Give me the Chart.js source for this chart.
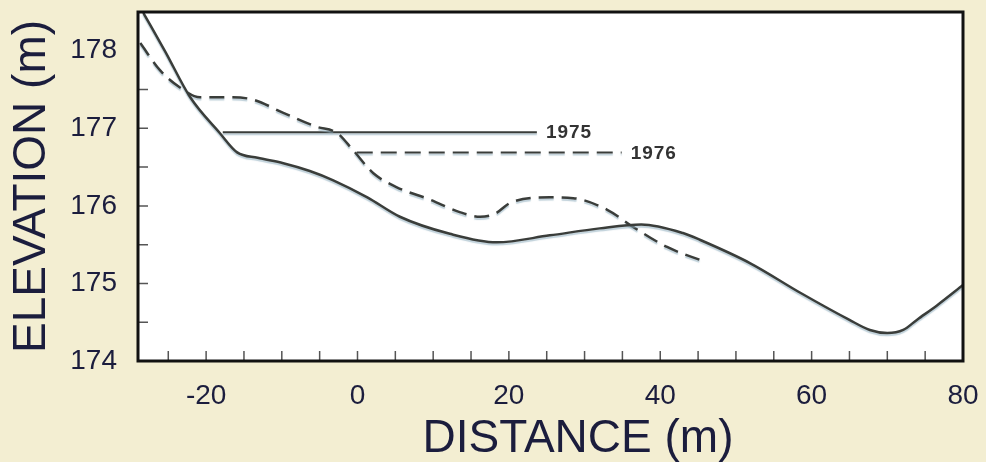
<!DOCTYPE html>
<html>
  <head>
    <script src="https://cdn.jsdelivr.net/npm/chart.js"></script>
    <style>
      html, body {
        margin: 0;
        padding: 0;
        background: #f3eed2;
      }
      .wrap {
        width: 986px;
        height: 462px;
        position: relative;
      }
    </style>
  </head>
  <body>
    <div class="wrap"><canvas id="profileChart"></canvas></div>

    <script>
      // solid profile
      const solidDistance  = [-28.3, -25.4, -22.1, -18.2, -15.9, -13.2, -9.8, -6.3, -3.2, 1.3, 5.6, 12.2, 18.4, 25.4, 32.0, 37.5, 43.0, 45.3, 51.9, 58.5, 65.0, 67.7, 70.0, 72.1, 73.9, 76.6, 80.0];
      const solidElevation = [178.49, 177.99, 177.40, 176.94, 176.69, 176.62, 176.55, 176.45, 176.33, 176.11, 175.86, 175.64, 175.53, 175.62, 175.71, 175.76, 175.65, 175.56, 175.26, 174.88, 174.53, 174.40, 174.36, 174.40, 174.53, 174.72, 174.98];

      // dashed profile
      const dashedDistance  = [-28.7, -26.1, -23.5, -20.8, -16.5, -13.8, -9.8, -5.4, -2.7, -0.6, 2.1, 5.2, 9.6, 13.5, 16.2, 18.2, 20.2, 25.4, 28.5, 33.0, 36.4, 40.9, 45.9];
      const dashedElevation = [178.10, 177.75, 177.53, 177.40, 177.40, 177.37, 177.20, 177.02, 176.94, 176.72, 176.42, 176.24, 176.08, 175.92, 175.86, 175.90, 176.04, 176.11, 176.10, 175.95, 175.73, 175.47, 175.28];

      // key lines inside the plot
      const keyYears     = ['1975', '1976'];
      const keyDistance  = [[-17.8, 23.7], [-0.1, 34.9]];
      const keyElevation = [176.95, 176.69];

      const xTicks = [-20, 0, 20, 40, 60, 80];
      const yTicks = [174, 175, 176, 177, 178];
      const xMinorTicks = [-25, -20, -15, -10, -5, 0, 5, 10, 15, 20, 25, 30, 35, 40, 45, 50, 55, 60, 65, 70, 75];
      const yMinorTicks = [174.5, 175, 175.5, 176, 176.5, 177, 177.5];

      const inkColor = '#3a3d3a';
      const textColor = '#1b1d3d';

      function toPoints(xs, ys) {
        return xs.map((x, i) => ({ x: x, y: ys[i] }));
      }

      const paperPlugin = {
        id: 'paper',
        beforeDraw(chart) {
          const { ctx, chartArea: a } = chart;
          ctx.save();
          ctx.fillStyle = '#f3eed2';
          ctx.fillRect(0, 0, chart.width, chart.height);
          ctx.fillStyle = '#ffffff';
          ctx.fillRect(a.left, a.top, a.right - a.left, a.bottom - a.top);
          ctx.restore();
        },
        beforeDatasetDraw(chart) {
          const ctx = chart.ctx;
          ctx.save();
          ctx.shadowColor = 'rgba(140, 172, 188, 0.55)';
          ctx.shadowOffsetY = 2;
          ctx.shadowBlur = 1;
        },
        afterDatasetDraw(chart) {
          chart.ctx.restore();
        },
        afterDatasetsDraw(chart) {
          const { ctx, chartArea: a, scales } = chart;
          ctx.save();

          // key labels
          ctx.fillStyle = '#333333';
          ctx.font = 'bold 19px "Liberation Sans"';
          ctx.letterSpacing = '1px';
          ctx.textBaseline = 'middle';
          ctx.textAlign = 'left';
          keyYears.forEach((yr, i) => {
            const x = scales.x.getPixelForValue(keyDistance[i][1]) + 9;
            const y = scales.y.getPixelForValue(keyElevation[i]) + 1;
            ctx.fillText(yr, x, y);
          });
          ctx.letterSpacing = '0px';

          // inward minor ticks
          ctx.strokeStyle = '#555555';
          ctx.lineWidth = 1.5;
          ctx.beginPath();
          xMinorTicks.forEach(v => {
            const x = scales.x.getPixelForValue(v);
            ctx.moveTo(x, a.bottom);
            ctx.lineTo(x, a.bottom - 10);
          });
          yMinorTicks.forEach(v => {
            const y = scales.y.getPixelForValue(v);
            ctx.moveTo(a.left, y);
            ctx.lineTo(a.left + 10, y);
          });
          ctx.stroke();

          // frame
          ctx.strokeStyle = '#111111';
          ctx.lineWidth = 3;
          ctx.strokeRect(a.left, a.top, a.right - a.left, a.bottom - a.top);

          // x title
          ctx.fillStyle = textColor;
          ctx.font = '46px "Liberation Sans"';
          ctx.textAlign = 'center';
          ctx.textBaseline = 'middle';
          ctx.fillText('DISTANCE (m)', 578, 439);
          ctx.restore();
        }
      };

      new Chart(document.getElementById('profileChart'), {
        type: 'line',
        data: {
          datasets: [
            {
              data: toPoints(solidDistance, solidElevation),
              borderColor: inkColor,
              borderWidth: 2.5,
              pointRadius: 0,
              cubicInterpolationMode: 'monotone'
            },
            {
              data: toPoints(dashedDistance, dashedElevation),
              borderColor: inkColor,
              borderWidth: 2.5,
              borderDash: [15, 8],
              pointRadius: 0,
              cubicInterpolationMode: 'monotone'
            },
            {
              data: toPoints(keyDistance[0], [keyElevation[0], keyElevation[0]]),
              borderColor: inkColor,
              borderWidth: 2,
              pointRadius: 0
            },
            {
              data: toPoints(keyDistance[1], [keyElevation[1], keyElevation[1]]),
              borderColor: inkColor,
              borderWidth: 2,
              borderDash: [16, 8],
              pointRadius: 0
            }
          ]
        },
        options: {
          responsive: true,
          maintainAspectRatio: false,
          animation: false,
          layout: { padding: { top: 12, right: 23, left: 0, bottom: 0 } },
          plugins: {
            legend: { display: false },
            tooltip: { enabled: false }
          },
          scales: {
            x: {
              type: 'linear',
              min: -29,
              max: 80,
              afterBuildTicks: s => { s.ticks = xTicks.map(v => ({ value: v })); },
              afterFit: s => { s.height = 101; s.paddingLeft = 0; s.paddingRight = 0; },
              grid: { display: false },
              border: { display: false },
              ticks: {
                padding: 10,
                color: textColor,
                font: { family: '"Liberation Sans"', size: 28 },
                maxRotation: 0
              }
            },
            y: {
              type: 'linear',
              min: 174,
              max: 178.5,
              afterBuildTicks: s => { s.ticks = yTicks.map(v => ({ value: v })); },
              afterFit: s => { s.width = 138; s.paddingTop = 0; s.paddingBottom = 0; },
              grid: { display: false },
              border: { display: false },
              ticks: {
                padding: 13,
                color: textColor,
                font: { family: '"Liberation Sans"', size: 28 }
              },
              title: {
                display: true,
                text: 'ELEVATION (m)',
                color: textColor,
                font: { family: '"Liberation Sans"', size: 46, lineHeight: 1 },
                padding: { top: 9, bottom: 0 }
              }
            }
          }
        },
        plugins: [paperPlugin]
      });
    </script>
  </body>
</html>
